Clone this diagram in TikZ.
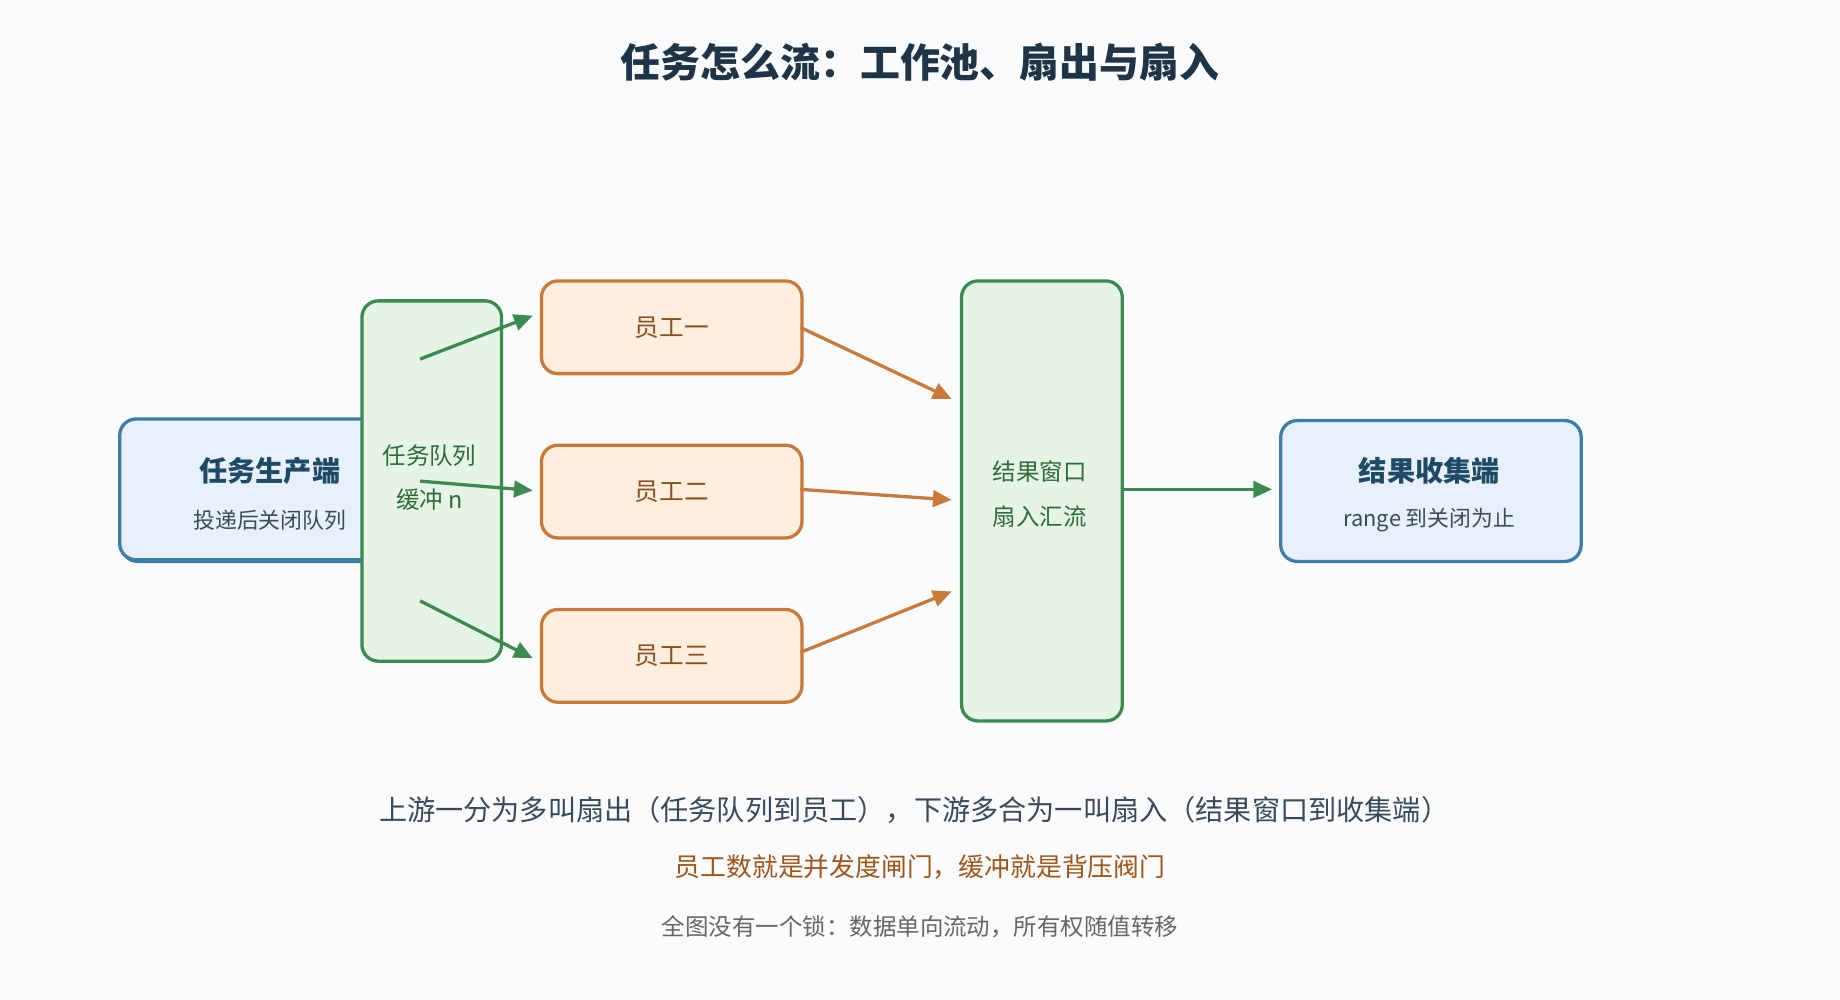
\documentclass[tikz,border=0pt]{standalone}
\usepackage{fontspec}
\setmainfont{Noto Sans CJK SC}
\usetikzlibrary{arrows.meta}
\definecolor{bg}{HTML}{F9FBFD}
\definecolor{bstroke}{HTML}{3D7EA6}\definecolor{bfill}{HTML}{E8F0FB}
\definecolor{gstroke}{HTML}{3B8A50}\definecolor{gfill}{HTML}{E6F4E6}
\definecolor{ostroke}{HTML}{C97A3A}\definecolor{ofill}{HTML}{FEEEDD}
\definecolor{otext}{HTML}{8A5020}\definecolor{gtext}{HTML}{2F6B3A}
\definecolor{btext}{HTML}{1F4A66}\definecolor{title}{HTML}{1F3447}
\definecolor{line1}{HTML}{3A4A5A}\definecolor{line2}{HTML}{A0561A}\definecolor{line3}{HTML}{666666}
\begin{document}
\begin{tikzpicture}[x=0.5pt,y=-0.5pt,
 box/.style={draw,line width=1.4pt,rounded corners=7pt,inner sep=0pt},
 blue/.style={box,draw=bstroke,fill=bfill},
 green/.style={box,draw=gstroke,fill=gfill},
 orange/.style={box,draw=ostroke,fill=ofill},
 garr/.style={draw=gstroke,line width=1.4pt,-{Triangle[length=8pt,width=7pt]}},
 oarr/.style={draw=ostroke,line width=1.4pt,-{Triangle[length=8pt,width=7pt]}},
 txt/.style={inner sep=0pt,anchor=center}]
\fill[bg] (0,0) rectangle (1568,852);
\node[txt,font=\fontsize{17}{20}\selectfont\bfseries,text=title] (t) at (784,53) {任务怎么流：工作池、扇出与扇入};
% producer
\node[blue,minimum width=240pt*0.5,minimum height=60pt,anchor=north west] (prod) at (102,357) {};
\path[draw=bstroke,fill=bfill,line width=1.4pt,rounded corners=7pt] (330,357) -- (102,357) -- (102,477) -- (330,477);
\node[txt,font=\fontsize{12}{14}\selectfont\bfseries,text=btext] (p1) at (230,401) {任务生产端};
\node[txt,font=\fontsize{9.3}{11}\selectfont,text=line1] (p2) at (230,443) {投递后关闭队列};
% queue
\node[green,minimum width=59.5pt,minimum height=153.5pt,anchor=north west] (q) at (307,255) {};
\node[txt,font=\fontsize{10}{12}\selectfont,text=gtext] (q1) at (366,388) {任务队列};
\node[txt,font=\fontsize{10}{12}\selectfont,text=gtext] (q2) at (366,426) {缓冲 n};
% workers
\node[orange,minimum width=111pt,minimum height=39.5pt,anchor=north west] (w1) at (460,238) {};
\node[orange,minimum width=111pt,minimum height=39.5pt,anchor=north west] (w2) at (460,378) {};
\node[orange,minimum width=111pt,minimum height=39.5pt,anchor=north west] (w3) at (460,518) {};
\node[txt,font=\fontsize{10.5}{12}\selectfont,text=otext] at (w1) {员工一};
\node[txt,font=\fontsize{10.5}{12}\selectfont,text=otext] at (w2) {员工二};
\node[txt,font=\fontsize{10.5}{12}\selectfont,text=otext] at (w3) {员工三};
% window
\node[green,minimum width=68.5pt,minimum height=187.5pt,anchor=north west] (win) at (818,238) {};
\node[txt,font=\fontsize{10}{12}\selectfont,text=gtext] (win1) at (886,402) {结果窗口};
\node[txt,font=\fontsize{10}{12}\selectfont,text=gtext] (win2) at (886,440) {扇入汇流};
% collector
\node[blue,minimum width=128pt,minimum height=60pt,anchor=north west] (col) at (1090,357) {};
\node[txt,font=\fontsize{12}{14}\selectfont\bfseries,text=btext] (c1) at (1218,401) {结果收集端};
\node[txt,font=\fontsize{9.3}{11}\selectfont,text=line1] (c2) at (1218,443) {range 到关闭为止};
% arrow coordinates
\coordinate (a1) at (358,306); \coordinate (b1) at (454,269);
\coordinate (a2) at (358,410); \coordinate (b2) at (454,418);
\coordinate (a3) at (358,512); \coordinate (b3) at (454,561);
\coordinate (e1) at (811,340); \coordinate (e2) at (811,426); \coordinate (e3) at (811,504);
\coordinate (s1) at (682,279); \coordinate (s2) at (682,417); \coordinate (s3) at (682,556);
\coordinate (f1) at (955,417); \coordinate (f2) at (1084,417);
\draw[garr] (a1) -- (b1);
\draw[garr] (a2) -- (b2);
\draw[garr] (a3) -- (b3);
\draw[oarr] (s1) -- (e1);
\draw[oarr] (s2) -- (e2);
\draw[oarr] (s3) -- (e3);
\draw[garr] (f1) -- (f2);
% bottom text
\node[txt,font=\fontsize{12}{14}\selectfont,text=line1] (l1) at (779,690) {上游一分为多叫扇出（任务队列到员工），下游多合为一叫扇入（结果窗口到收集端）};
\node[txt,font=\fontsize{11}{13}\selectfont,text=line2] (l2) at (784,739) {员工数就是并发度闸门，缓冲就是背压阀门};
\node[txt,font=\fontsize{10}{12}\selectfont,text=line3] (l3) at (784,790) {全图没有一个锁：数据单向流动，所有权随值转移};
\end{tikzpicture}
\end{document}
